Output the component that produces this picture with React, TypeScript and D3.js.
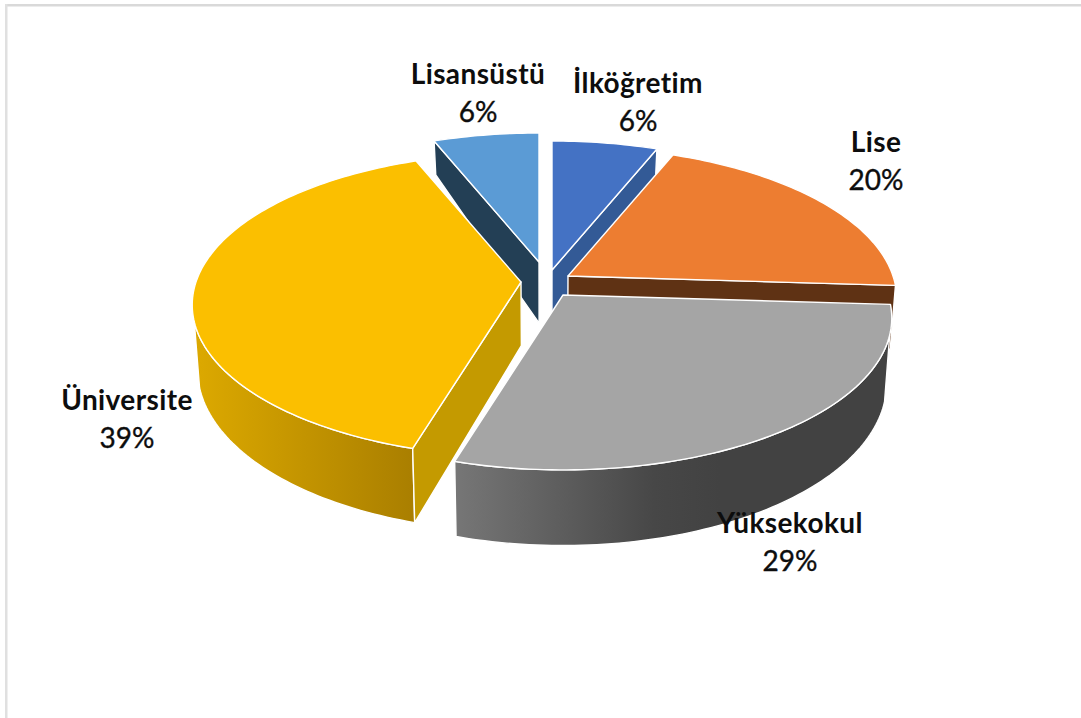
import React from 'react';
import * as d3 from 'd3';

const categories = ['İlköğretim', 'Lise', 'Yüksekokul', 'Üniversite', 'Lisansüstü'];
const shares = [6, 20, 28.6, 39.4, 6];
const topColors = ['#4472c4', '#ed7d31', '#a5a5a5', '#fbbf00', '#5b9bd5'];
const radialWallColors = ['#335a96', '#5f3214', '#636363', '#c49a00', '#233f55'];
const arcWallFills = ['#335a96', '#5f3214', 'url(#wallGray)', 'url(#wallYellow)', '#233f55'];
// how far each slice is pulled out of the centre, px
const explodeX = [6, 22, 17, -25, -7];
const explodeY = [-5, 1, 20, 7, -13];
// label anchors, px
const labelX = [638, 876, 790, 127, 478];
const labelY = [93, 152, 533, 410, 84];

const width = 1081;
const height = 718;
const cx = 546;
const cy = 275;
const rx = 325;
const ry = 148.5;
const persp = 0.151; // the near side of the pie looks larger than the far side
const bottomScale = 0.985;
const wallDepth = d3.scaleLinear().domain([145, 270, 323, 460]).range([35, 63, 66, 75]);
// the rim silhouette sits a little in front of 3 and 9 o'clock
const rimFrom = (105 * Math.PI) / 180;
const rimTo = (255 * Math.PI) / 180;

type Pt = [number, number];

const topPoint = (ax: number, ay: number, angle: number): Pt => {
  const u = Math.sin(angle);
  const v = -Math.cos(angle);
  const w = 1 - persp * v;
  return [ax + (rx * u) / w, ay + (ry * v) / w];
};
const bottomPoint = (p: Pt): Pt => [cx + (p[0] - cx) * bottomScale, p[1] + wallDepth(p[1])];

const arcPoints = (ax: number, ay: number, a0: number, a1: number): Pt[] => {
  const n = Math.max(2, Math.ceil((a1 - a0) / 0.02));
  return d3.range(n + 1).map(i => topPoint(ax, ay, a0 + ((a1 - a0) * i) / n));
};

const line = d3.line<Pt>();
const closed = (pts: Pt[]) => line(pts) + 'Z';

const slices = d3.pie<number>().sort(null)(shares);
// back to front
const drawOrder = [4, 0, 1, 3, 2];

export default function App() {
  return (
    <svg width={width} height={height} style={{ position: 'absolute', left: 0, top: 0, background: '#fff' }}>
      <defs>
        <linearGradient id="wallGray" gradientUnits="userSpaceOnUse" x1={457} x2={720} y1={0} y2={0}>
          <stop offset="0" stopColor="#767676" />
          <stop offset="0.75" stopColor="#474747" />
          <stop offset="1" stopColor="#424242" />
        </linearGradient>
        <linearGradient id="wallYellow" gradientUnits="userSpaceOnUse" x1={200} x2={412} y1={0} y2={0}>
          <stop offset="0" stopColor="#dba800" />
          <stop offset="1" stopColor="#aa7f00" />
        </linearGradient>
      </defs>

      <rect x={5} y={4} width={width - 5} height={2.5} fill="#d9d9d9" />
      <rect x={5} y={4} width={2.5} height={height - 4} fill="#e0e0e0" />

      {drawOrder.map(i => {
        const s = slices[i];
        const ax = cx + explodeX[i];
        const ay = cy + explodeY[i];
        const apex: Pt = [ax, ay];
        const rim = arcPoints(ax, ay, s.startAngle, s.endAngle);

        // radial walls only face the viewer on one side of the pie
        const wallAt = (angle: number) => {
          const outer = topPoint(ax, ay, angle);
          return closed([apex, outer, bottomPoint(outer), bottomPoint(apex)]);
        };
        const showEnd = s.endAngle < Math.PI;
        const showStart = s.startAngle > Math.PI;

        // outer wall: only the part of the rim facing the viewer
        const a0 = Math.max(s.startAngle, rimFrom);
        const a1 = Math.min(s.endAngle, rimTo);
        const front = a1 > a0 ? arcPoints(ax, ay, a0, a1) : [];

        return (
          <g key={categories[i]} stroke="#fff" strokeWidth={1.4} strokeLinejoin="round">
            {front.length > 0 && (
              <path d={closed([...front, ...front.map(bottomPoint).reverse()])} fill={arcWallFills[i]} />
            )}
            {showEnd && <path d={wallAt(s.endAngle)} fill={radialWallColors[i]} />}
            {showStart && <path d={wallAt(s.startAngle)} fill={radialWallColors[i]} />}
            <path d={closed([apex, ...rim])} fill={topColors[i]} />
          </g>
        );
      })}

      <g fontFamily="Lato, 'Open Sans', sans-serif" fontSize={28} fill="#0d0d0d" textAnchor="middle">
        {categories.map((c, i) => (
          <g key={c}>
            <text x={labelX[i]} y={labelY[i]} fontWeight={700} letterSpacing={0.4}>{c}</text>
            <text x={labelX[i]} y={labelY[i] + 38} stroke="#0d0d0d" strokeWidth={0.35}>{Math.round(shares[i])}%</text>
          </g>
        ))}
      </g>
    </svg>
  );
}
